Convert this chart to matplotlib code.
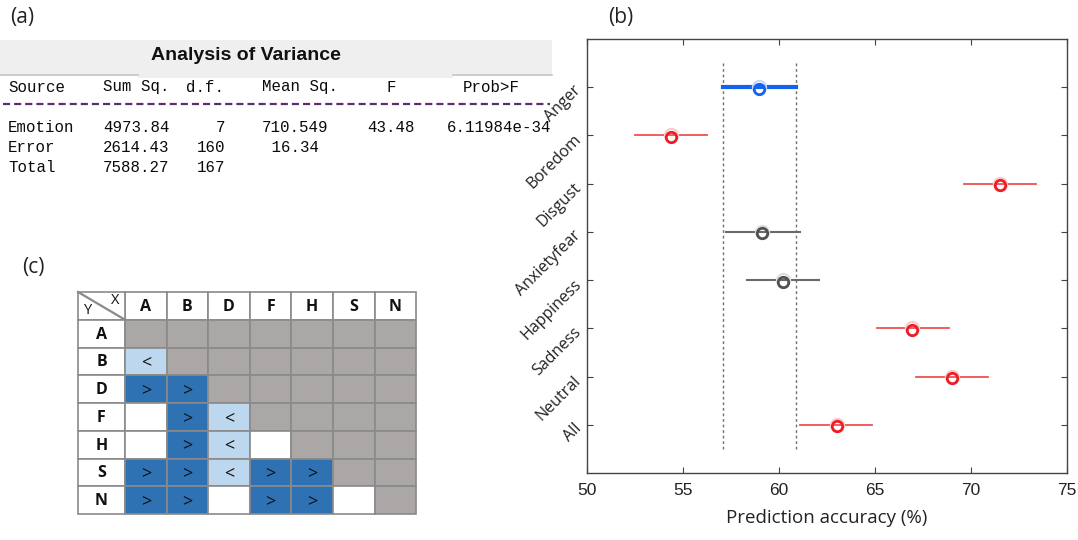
import numpy as np
import matplotlib.pyplot as plt
from matplotlib.patches import Rectangle

# ---- panel (b) data: prediction accuracy per emotion (%)
emotions = ["Anger", "Boredom", "Disgust", "Anxietyfear", "Happiness",
            "Sadness", "Neutral", "All"]
acc_mean = [58.97, 54.38, 71.5, 59.1, 60.2, 66.95, 69.0, 63.0]
acc_lo = [57.1, 52.5, 69.62, 57.25, 58.35, 65.1, 67.12, 61.08]
acc_hi = [60.87, 56.25, 73.4, 61.1, 62.1, 68.85, 70.9, 64.85]
group = ["ref", "diff", "diff", "same", "same", "diff", "diff", "diff"]
ref_band = [57.1, 60.87]

# ---- panel (a) data: anova table
anova_head = ["Source", "Sum Sq.", "d.f.", "Mean Sq.", "F", "Prob>F"]
anova_rows = [["Emotion", "4973.84", "7", "710.549", "43.48", "6.11984e-34"],
              ["Error", "2614.43", "160", " 16.34", "", ""],
              ["Total", "7588.27", "167", "", "", ""]]

# ---- panel (c) data: pairwise comparison matrix
cmp_cols = ["A", "B", "D", "F", "H", "S", "N"]
cmp_rows = ["A", "B", "D", "F", "H", "S", "N"]
# g = gray (not tested), L = light blue '<', R = dark blue '>', w = white
cmp_cells = ["ggggggg",
             "Lgggggg",
             "RRggggg",
             "wRLgggg",
             "wRLwggg",
             "RRLRRgg",
             "RRwRRwg"]

fig = plt.figure(figsize=(10.78, 5.4), dpi=100)

# overlay in pixel coords for the two table panels
ov = fig.add_axes([0, 0, 1, 1])
ov.set_xlim(0, 1078)
ov.set_ylim(540, 0)
ov.axis("off")
ov.patch.set_visible(False)

lab_font = dict(family="Open Sans", fontsize=15, color="#222222")
ov.text(10, 18, "(a)", va="center", ha="left", **lab_font)
ov.text(608, 18, "(b)", va="center", ha="left", **lab_font)
ov.text(22, 268, "(c)", va="center", ha="left", **lab_font)

# ---- (a) anova table
ov.add_patch(Rectangle((0, 40), 552, 35, color="#efefef", lw=0))
ov.add_patch(Rectangle((138, 74), 315, 4, color="#efefef", lw=0))
ov.plot([0, 138], [75, 75], color="#c4c4c4", lw=1.2)
ov.plot([453, 552], [75, 75], color="#c4c4c4", lw=1.2)
ov.text(246, 56, "Analysis of Variance", ha="center", va="center",
        family="Liberation Sans", fontsize=14, weight="bold",
        color="#111111")

head_x = [8, 103, 186, 262, 386, 463]
col_x = [8, 103, 225, 262, 367, 447]
col_ha = ["left", "left", "right", "left", "left", "left"]
mono = dict(family="Liberation Mono", fontsize=11.3, color="#0a0a0a",
            va="center")
for x, t in zip(head_x, anova_head):
    ov.text(x, 87, t, ha="left", **mono)
ov.plot([3, 550], [103.5, 103.5], color="#5e2c72", lw=1.6,
        linestyle=(0, (3.2, 1.8)))
for r, row in enumerate(anova_rows):
    for x, t, ha in zip(col_x, row, col_ha):
        ov.text(x, 127 + 20 * r, t, ha=ha, **mono)

# ---- (c) comparison matrix
fill = {"g": "#aba7a6", "L": "#bdd7ee", "R": "#2e72b3", "w": "white"}
sym = {"L": "<", "R": ">"}
x0, y0 = 78, 292
w0, cw, ch = 47, 41.6, 27.75
grid_c = "#8a8a8a"
for j, c in enumerate(cmp_cols):
    xl = x0 + w0 + j * cw
    ov.add_patch(Rectangle((xl, y0), cw, ch, facecolor="white",
                           edgecolor=grid_c, lw=1.2))
    ov.text(xl + cw / 2, y0 + ch / 2 + 1, c, ha="center", va="center",
            family="Open Sans", weight="bold", fontsize=11.5, color="#111111")
ov.add_patch(Rectangle((x0, y0), w0, ch, facecolor="white",
                       edgecolor=grid_c, lw=1.2))
ov.plot([x0, x0 + w0], [y0, y0 + ch], color=grid_c, lw=1.6)
ov.text(x0 + 10, y0 + 19, "Y", ha="center", va="center",
        family="Open Sans", fontsize=10.5, color="#111111")
ov.text(x0 + 37, y0 + 8, "X", ha="center", va="center",
        family="Open Sans", fontsize=10.5, color="#111111")
for i, rname in enumerate(cmp_rows):
    yt = y0 + (i + 1) * ch
    ov.add_patch(Rectangle((x0, yt), w0, ch, facecolor="white",
                           edgecolor=grid_c, lw=1.2))
    ov.text(x0 + w0 / 2, yt + ch / 2 + 1, rname, ha="center", va="center",
            family="Open Sans", weight="bold", fontsize=11.5, color="#111111")
    for j, k in enumerate(cmp_cells[i]):
        xl = x0 + w0 + j * cw
        ov.add_patch(Rectangle((xl, yt), cw, ch, facecolor=fill[k],
                               edgecolor=grid_c, lw=1.2))
        if k in sym:
            ov.text(xl + cw / 2, yt + ch / 2 + 1, sym[k], ha="center",
                    va="center", family="Open Sans", fontsize=13,
                    color="#111111")

# ---- (b) multiple comparison plot
ax = fig.add_axes([587 / 1078, 1 - 473 / 540, 480 / 1078, 434 / 540])
style = {"ref": dict(line="#1463ee", mk="#1463ee", lw=3.0, halo="#c4d8fa"),
         "diff": dict(line="#f05050", mk="#ee1c24", lw=1.3, halo="#f9cccc"),
         "same": dict(line="#6a6a6a", mk="#505050", lw=1.5, halo="#dddddd")}
ypos = np.arange(1, len(emotions) + 1)
for x in ref_band:
    ax.plot([x, x], [0.5, 8.5], color="#707070", lw=1.0,
            linestyle=(0, (2, 2)), zorder=1)
for y, m, lo, hi, g in zip(ypos, acc_mean, acc_lo, acc_hi, group):
    s = style[g]
    ax.plot([lo, hi], [y, y], color=s["line"], lw=s["lw"], zorder=2)
    ax.plot(m, y, "o", ms=9.5, mfc="none", mec=s["halo"], mew=1.5, zorder=3)
    ax.plot(m, y + 0.03, "o", ms=7.5, mfc="none", mec=s["mk"], mew=2,
            zorder=4)

ax.set_xlim(50, 75)
ax.set_ylim(9, 0)
ax.set_xticks(np.arange(50, 76, 5))
ax.set_yticks(ypos)
ax.set_yticklabels(emotions, rotation=45, ha="right",
                   rotation_mode="anchor", family="Open Sans", fontsize=11.5,
                   color="#222222")
for t in ax.get_xticklabels():
    t.set_family("Liberation Sans")
    t.set_fontsize(12.5)
    t.set_color("#222222")
ax.tick_params(direction="in", length=4, width=0.8, color="#444444",
               top=True, right=True, pad=7)
ax.tick_params(axis="y", pad=7)
for sp in ax.spines.values():
    sp.set_color("#444444")
    sp.set_linewidth(1.0)
ax.set_xlabel("Prediction accuracy (%)", family="Open Sans", fontsize=13.5,
              color="#222222", labelpad=8)

fig.savefig("out.png", dpi=100)
